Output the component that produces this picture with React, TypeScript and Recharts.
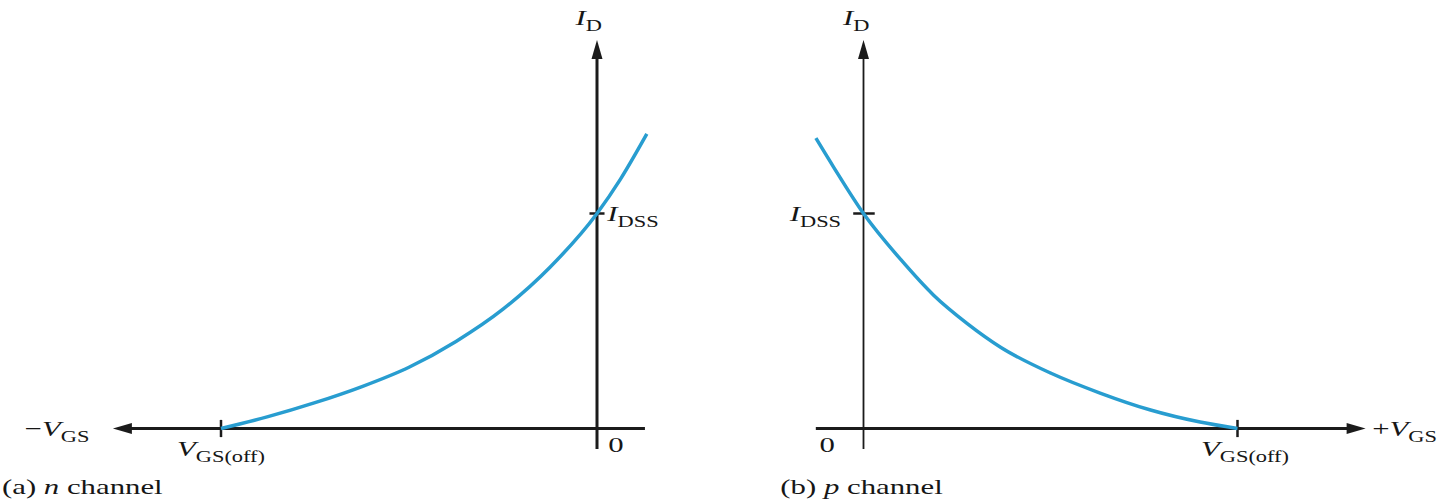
import { LineChart, Line, XAxis, YAxis, ReferenceLine, ReferenceDot } from "recharts";

// gate-source voltage (V) and drain current (mA)
const nVgs = [-4, -3.5, -3, -2.5, -2, -1.5, -1, -0.5, 0, 0.25, 0.53];
const nId = [0, 0.55, 1.2, 1.95, 2.85, 4.05, 5.55, 7.5, 10, 11.6, 13.7];
const pVgs = [-0.51, -0.32, 0, 0.4, 0.75, 1.11, 1.47, 2.0, 2.53, 3.07, 3.6, 4.0];
const pId = [13.51, 12.16, 10, 7.85, 6.2, 4.88, 3.77, 2.58, 1.65, 0.86, 0.3, 0];

const VGS_OFF = 4;
const IDSS = 10;

const nData = nVgs.map((v, i) => ({ v, id: nId[i] }));
const pData = pVgs.map((v, i) => ({ v, id: pId[i] }));

const AXIS = "#1b1b1b";
const CURVE = "#289dd0";
const FONT = "'Liberation Serif', 'DejaVu Serif', serif";
// the scanned figure is stretched sideways, so the lettering is too
const SX = 1.4;

type Part = { t: string; it?: boolean; sub?: boolean };

const textShape =
  (parts: Part[], anchor: "start" | "middle" | "end" = "start") =>
  (p: any) => {
    let wasSub = false;
    return (
      <text
        x={0}
        y={0}
        transform={`translate(${p.cx},${p.cy}) scale(${SX},1)`}
        textAnchor={anchor}
        fontFamily={FONT}
        fontSize={22}
        fill="#161616"
      >
        {parts.map((s, i) => {
          const dy = s.sub && !wasSub ? 6 : !s.sub && wasSub ? -6 : 0;
          wasSub = !!s.sub;
          return (
            <tspan key={i} dy={dy} fontStyle={s.it ? "italic" : "normal"} fontSize={s.sub ? 16 : 22}>
              {s.t}
            </tspan>
          );
        })}
      </text>
    );
  };

const arrowShape = (dir: "left" | "right" | "up") => (p: any) => {
  const { cx, cy } = p;
  const L = 19;
  const W = 5.5;
  let pts = "";
  if (dir === "left") pts = `${cx},${cy} ${cx + L},${cy - W} ${cx + L},${cy + W}`;
  if (dir === "right") pts = `${cx},${cy} ${cx - L},${cy - W} ${cx - L},${cy + W}`;
  if (dir === "up") pts = `${cx},${cy} ${cx - W},${cy + L} ${cx + W},${cy + L}`;
  return <polygon points={pts} fill={AXIS} />;
};

const ID_LABEL: Part[] = [{ t: "I", it: true }, { t: "D", sub: true }];
const IDSS_LABEL: Part[] = [{ t: "I", it: true }, { t: "DSS", sub: true }];
const OFF_LABEL: Part[] = [{ t: "V", it: true }, { t: "GS(off)", sub: true }];

const NChannel = () => (
  <LineChart width={700} height={503} data={nData} margin={{ top: 20, right: 9, bottom: 10, left: 33 }}>
    <XAxis type="number" dataKey="v" domain={[-6, 1]} hide allowDataOverflow />
    <YAxis type="number" domain={[-3, 19]} hide allowDataOverflow />
    <ReferenceLine segment={[{ x: -5.0, y: 0 }, { x: 0.51, y: 0 }]} stroke={AXIS} strokeWidth={3} ifOverflow="visible" />
    <ReferenceLine segment={[{ x: 0, y: -0.95 }, { x: 0, y: 17.3 }]} stroke={AXIS} strokeWidth={3} ifOverflow="visible" />
    <ReferenceLine segment={[{ x: -VGS_OFF, y: -0.4 }, { x: -VGS_OFF, y: 0.4 }]} stroke={AXIS} strokeWidth={2.5} ifOverflow="visible" />
    <ReferenceLine segment={[{ x: -0.08, y: IDSS }, { x: 0.08, y: IDSS }]} stroke={AXIS} strokeWidth={2.5} ifOverflow="visible" />
    <ReferenceDot x={-5.15} y={0} ifOverflow="visible" shape={arrowShape("left")} />
    <ReferenceDot x={0} y={18.07} ifOverflow="visible" shape={arrowShape("up")} />
    <Line type="monotone" dataKey="id" stroke={CURVE} strokeWidth={3.5} dot={false} isAnimationActive={false} />
    <ReferenceDot x={-0.23} y={18.77} ifOverflow="visible" shape={textShape(ID_LABEL)} />
    <ReferenceDot x={0.11} y={9.65} ifOverflow="visible" shape={textShape(IDSS_LABEL)} />
    <ReferenceDot x={0.12} y={-1.09} ifOverflow="visible" shape={textShape([{ t: "0" }])} />
    <ReferenceDot x={-4} y={-1.28} ifOverflow="visible" shape={textShape(OFF_LABEL, "middle")} />
    <ReferenceDot
      x={-5.4}
      y={-0.35}
      ifOverflow="visible"
      shape={textShape([{ t: "\u2212" }, { t: "V", it: true }, { t: "GS", sub: true }], "end")}
    />
    <ReferenceDot
      x={-6.33}
      y={-3.05}
      ifOverflow="visible"
      shape={textShape([{ t: "(a) " }, { t: "n", it: true }, { t: " channel" }])}
    />
  </LineChart>
);

const PChannel = () => (
  <LineChart width={732} height={503} data={pData} margin={{ top: 20, right: 27.5, bottom: 10, left: 50 }}>
    <XAxis type="number" dataKey="v" domain={[-1, 6]} hide allowDataOverflow />
    <YAxis type="number" domain={[-3, 19]} hide allowDataOverflow />
    <ReferenceLine segment={[{ x: -0.51, y: 0 }, { x: 5.2, y: 0 }]} stroke={AXIS} strokeWidth={3} ifOverflow="visible" />
    <ReferenceLine segment={[{ x: 0, y: -0.95 }, { x: 0, y: 17.3 }]} stroke={AXIS} strokeWidth={1.8} ifOverflow="visible" />
    <ReferenceLine segment={[{ x: VGS_OFF, y: -0.4 }, { x: VGS_OFF, y: 0.4 }]} stroke={AXIS} strokeWidth={2.5} ifOverflow="visible" />
    <ReferenceLine segment={[{ x: -0.11, y: IDSS }, { x: 0.12, y: IDSS }]} stroke={AXIS} strokeWidth={2.5} ifOverflow="visible" />
    <ReferenceDot x={5.37} y={0} ifOverflow="visible" shape={arrowShape("right")} />
    <ReferenceDot x={0} y={18.07} ifOverflow="visible" shape={arrowShape("up")} />
    <Line type="monotone" dataKey="id" stroke={CURVE} strokeWidth={3.5} dot={false} isAnimationActive={false} />
    <ReferenceDot x={-0.22} y={18.77} ifOverflow="visible" shape={textShape(ID_LABEL)} />
    <ReferenceDot x={-0.24} y={9.65} ifOverflow="visible" shape={textShape(IDSS_LABEL, "end")} />
    <ReferenceDot x={-0.47} y={-1.09} ifOverflow="visible" shape={textShape([{ t: "0" }])} />
    <ReferenceDot x={4.08} y={-1.28} ifOverflow="visible" shape={textShape(OFF_LABEL, "middle")} />
    <ReferenceDot
      x={5.44}
      y={-0.35}
      ifOverflow="visible"
      shape={textShape([{ t: "+" }, { t: "V", it: true }, { t: "GS", sub: true }])}
    />
    <ReferenceDot
      x={-0.89}
      y={-3.05}
      ifOverflow="visible"
      shape={textShape([{ t: "(b) " }, { t: "p", it: true }, { t: " channel" }])}
    />
  </LineChart>
);

export default function App() {
  return (
    <div style={{ position: "fixed", left: 0, top: 0, width: 1452, height: 503, background: "#fff" }}>
      <div style={{ position: "absolute", left: 0, top: 0 }}>
        <NChannel />
      </div>
      <div style={{ position: "absolute", left: 720, top: 0 }}>
        <PChannel />
      </div>
    </div>
  );
}
